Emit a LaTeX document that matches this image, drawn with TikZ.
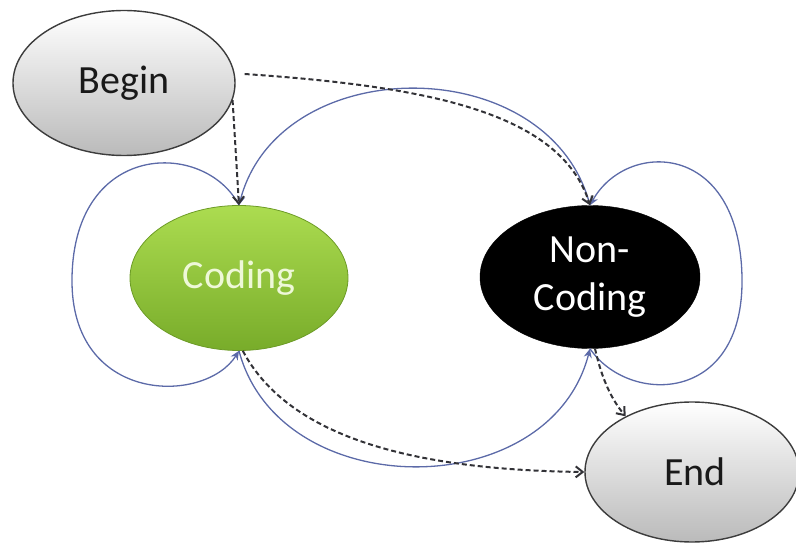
\documentclass[tikz,border=0pt]{standalone}
\usepackage{fontspec}
\setmainfont{Carlito}
\usetikzlibrary{shapes.geometric,arrows.meta}
\definecolor{loopblue}{RGB}{92,106,168}
\definecolor{dashgray}{RGB}{50,50,55}
\definecolor{edgegray}{RGB}{60,60,60}
\definecolor{greentop}{RGB}{172,220,80}
\definecolor{greenbot}{RGB}{120,172,42}
\definecolor{greentext}{RGB}{238,248,216}
\tikzset{
  state/.style={ellipse, inner sep=0pt, font=\fontsize{40}{48}\selectfont, align=center},
  graystate/.style={state, draw=edgegray, line width=1.4pt, top color=white, bottom color=black!27, text=black!90},
  greenstate/.style={state, draw=greenbot!90!black, line width=0.8pt, top color=greentop, bottom color=greenbot, text=greentext},
  blackstate/.style={state, draw=black, fill=black, text=white},
  blueline/.style={draw=loopblue, line width=1.3pt, -{Stealth[length=9pt,width=8pt]}},
  dashline/.style={draw=dashgray, line width=2pt, dash pattern=on 5pt off 3pt, -{Straight Barb[length=7pt,width=11pt]}}
}
\begin{document}
\begin{tikzpicture}[x=1pt,y=-1pt]
\useasboundingbox (0,0) rectangle (796,545);
\node[graystate, minimum width=222pt, minimum height=145pt] (Begin) at (124,83) {Begin};
\node[greenstate, minimum width=218pt, minimum height=145pt] (Coding) at (239,278) {Coding};
\node[blackstate, minimum width=220pt, minimum height=143pt] (NC) at (590,277) {Non-\\Coding};
\node[graystate, minimum width=214pt, minimum height=140pt] (End) at (692,472) {\hspace{6pt}End};

% top arc Non-Coding -> Coding
\draw[blueline] (NC.north) .. controls (550,50) and (280,50) .. (Coding.north);
% Coding self loop
\draw[blueline] (Coding.north) .. controls (205,140) and (74,140) .. (72,278)
   .. controls (70,405) and (205,405) .. (Coding.south);
% Non-Coding self loop
\draw[blueline] (NC.south) .. controls (628,405) and (744,405) .. (742,278)
   .. controls (740,140) and (626,140) .. (NC.north);
% bottom arc Coding -> Non-Coding
\draw[blueline] (Coding.south) .. controls (280,505) and (550,505) .. (NC.south);

% dashed transitions
\draw[dashline] (Begin.-9) -- (Coding.north);
\draw[dashline, shorten <=10pt] (Begin.5) .. controls (420,86) and (560,110) .. (NC.north);
\draw[dashline] (Coding.-87) .. controls (290,440) and (420,470) .. (End.west);
\draw[dashline] (NC.-86) .. controls (602,380) and (612,400) .. (End.140);
\end{tikzpicture}
\end{document}
